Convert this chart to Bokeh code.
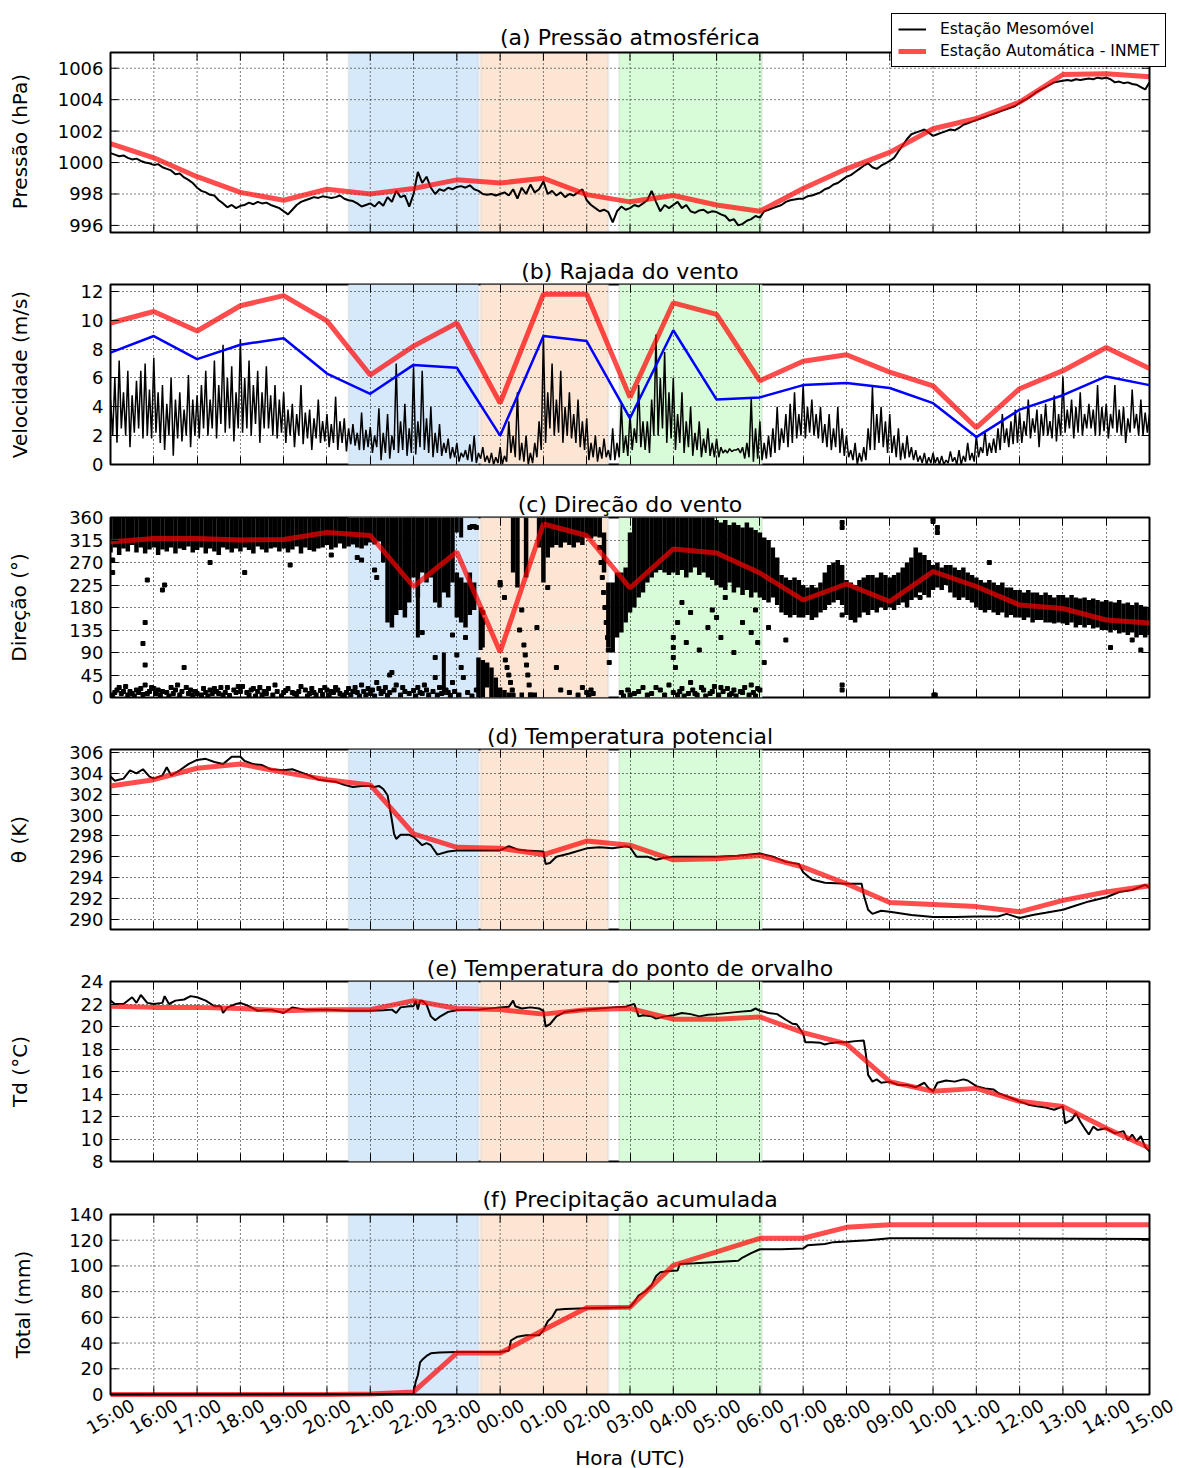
import math
from bokeh.plotting import figure
from bokeh.layouts import column
from bokeh.models import (Range1d, LinearAxis, FixedTicker, BoxAnnotation, Legend, LegendItem, Label)
from bokeh.core.properties import value
from bokeh.embed import file_html
from bokeh.resources import INLINE

FONT = "DejaVu Sans"

# ---------------- data ----------------
hours = list(range(25))
hour_labels = ["15:00", "16:00", "17:00", "18:00", "19:00", "20:00", "21:00", "22:00", "23:00",
               "00:00", "01:00", "02:00", "03:00", "04:00", "05:00", "06:00", "07:00", "08:00",
               "09:00", "10:00", "11:00", "12:00", "13:00", "14:00", "15:00"]

band_start = [5.5, 8.55, 11.75]
band_end = [8.5, 11.5, 15.05]
band_color = ["#d6e9fb", "#fde5d4", "#d8fcd8"]

# sample times (hours after 15:00) of the 6-minute series
t_step = [round(i * 0.1, 2) for i in range(241)]

# (a) pressure
press_yticks = [996, 998, 1000, 1002, 1004, 1006]
press_inmet = [1001.2, 1000.3, 999.1, 998.1, 997.6, 998.3, 998.0, 998.35, 998.9, 998.7, 999.0, 997.96,
               997.5, 997.9, 997.3, 996.9, 998.35, 999.6, 1000.65, 1002.15, 1002.8, 1003.85, 1005.6,
               1005.65, 1005.45]
press_meso = [
    1000.6, 1000.5, 1000.4, 1000.45, 1000.3, 1000.2, 1000.25, 1000.1, 1000.0, 999.95,
    999.85, 999.9, 999.7, 999.6, 999.5, 999.25, 999.3, 999.05, 998.9, 998.7,
    998.4, 998.2, 998.1, 997.95, 997.9, 997.6, 997.4, 997.15, 997.3, 997.1,
    997.25, 997.3, 997.45, 997.35, 997.5, 997.4, 997.45, 997.3, 997.2, 997.1,
    996.9, 996.7, 997.0, 997.3, 997.5, 997.6, 997.7, 997.8, 997.75, 997.85,
    997.8, 997.75, 997.8, 997.9, 997.7, 997.6, 997.55, 997.4, 997.2, 997.3,
    997.4, 997.2, 997.5, 997.25, 997.8, 997.5, 998.2, 997.8, 997.9, 997.2,
    998.0, 999.4, 998.7, 999.1, 998.4, 998.0, 998.3, 998.2, 998.4, 998.3,
    998.45, 998.5, 998.4, 998.55, 998.3, 998.2, 998.0, 997.95, 998.0, 997.9,
    998.0, 998.1, 997.9, 998.3, 997.7, 998.4, 998.0, 998.6, 998.1, 998.3,
    998.8, 998.0, 998.2, 997.9, 998.1, 997.8, 998.0, 997.9, 998.1, 998.3,
    997.6, 997.3, 997.1, 996.9, 997.0, 996.85, 996.2, 996.9, 997.2, 997.0,
    997.1, 997.3, 997.2, 997.4, 997.6, 998.2, 997.5, 996.9, 997.3, 997.1,
    997.3, 997.5, 997.1, 997.3, 996.9, 996.8, 996.95, 997.0, 996.8, 996.9,
    996.85, 996.7, 996.6, 996.3, 996.4, 996.0, 996.1, 996.3, 996.4, 996.6,
    996.5, 996.9, 997.0, 997.1, 997.2, 997.3, 997.5, 997.6, 997.65, 997.7,
    997.7, 997.85, 997.9, 998.0, 998.1, 998.3, 998.4, 998.6, 998.7, 998.9,
    999.1, 999.2, 999.4, 999.6, 999.8, 999.95, 999.7, 999.6, 999.8, 999.95,
    1000.1, 1000.3, 1000.7, 1001.1, 1001.5, 1001.8, 1001.9, 1002.0, 1002.1, 1001.9,
    1001.7, 1001.8, 1001.9, 1002.0, 1002.1, 1002.05, 1002.2, 1002.4, 1002.5, 1002.6,
    1002.7, 1002.8, 1002.9, 1003.0, 1003.1, 1003.2, 1003.3, 1003.4, 1003.5, 1003.6,
    1003.8, 1003.95, 1004.1, 1004.3, 1004.5, 1004.65, 1004.8, 1004.95, 1005.1, 1005.15,
    1005.2, 1005.25, 1005.2, 1005.3, 1005.25, 1005.3, 1005.35, 1005.3, 1005.4, 1005.35,
    1005.4, 1005.3, 1005.1, 1005.15, 1005.05, 1005.1, 1005.0, 1004.95, 1004.8, 1004.65,
    1005.1]

# (b) wind gust
gust_inmet = [9.8, 10.6, 9.25, 11.0, 11.7, 9.95, 6.2, 8.2, 9.8, 4.25, 11.8, 11.8, 4.65, 11.2, 10.4,
              5.8, 7.15, 7.6, 6.4, 5.45, 2.55, 5.25, 6.5, 8.1, 6.65]
wind_inmet = [7.75, 8.9, 7.3, 8.3, 8.75, 6.3, 4.9, 6.9, 6.7, 2.0, 8.9, 8.55, 3.2, 9.3, 4.5, 4.65,
              5.5, 5.65, 5.3, 4.25, 1.9, 3.8, 4.8, 6.1, 5.5]
# mesonet gust, every 3 minutes (20 values per hour)
gust_meso = [
    4.5, 2.0, 6.0, 1.5, 7.2, 2.5, 5.0, 2.0, 6.5, 1.2, 4.8, 2.2, 5.8, 2.5, 6.5, 1.8, 7.0, 2.0, 5.2, 1.8,
    7.4, 2.2, 5.0, 1.5, 5.5, 1.0, 4.2, 2.0, 6.0, 0.6, 4.5, 1.8, 5.0, 1.6, 3.8, 2.0, 6.2, 1.2, 4.5, 2.0,
    4.8, 1.8, 5.5, 2.5, 6.5, 2.0, 4.5, 2.5, 7.2, 1.8, 5.5, 2.8, 8.3, 2.2, 6.0, 2.5, 6.8, 1.6, 5.0, 2.5,
    8.7, 2.2, 6.0, 2.5, 7.2, 2.0, 5.5, 2.8, 6.5, 1.5, 5.0, 2.5, 6.8, 2.5, 4.8, 2.0, 5.5, 1.8, 4.5, 2.2,
    5.0, 1.5, 3.8, 2.0, 4.2, 1.2, 3.5, 2.0, 5.5, 1.4, 3.6, 1.8, 3.8, 1.0, 3.2, 1.8, 4.5, 1.5, 3.0, 1.6,
    3.5, 1.2, 2.8, 1.5, 4.7, 1.0, 3.0, 1.5, 3.2, 0.9, 2.5, 1.4, 2.8, 1.3, 2.2, 1.0, 3.6, 1.0, 2.4, 1.2,
    2.6, 0.8, 2.0, 1.2, 3.9, 0.3, 2.2, 0.8, 3.5, 0.4, 2.0, 1.0, 7.0, 0.8, 3.0, 1.0, 4.2, 0.6, 2.5, 0.8,
    6.8, 0.7, 3.0, 1.2, 6.5, 1.0, 3.2, 0.8, 4.0, 0.5, 2.2, 0.8, 2.8, 0.6, 1.5, 0.8, 1.8, 0.4, 1.2, 0.5,
    1.5, 0.2, 0.8, 0.5, 1.0, 0.3, 1.4, 0.2, 2.0, 0.1, 0.8, 0.4, 1.2, 0.2, 0.6, 0.1, 0.8, 0.0, 0.5, 0.1,
    1.2, 0.0, 0.6, 0.2, 3.0, 0.8, 2.0, 0.5, 5.0, 0.3, 1.5, 0.2, 2.0, 0.0, 0.8, 0.1, 1.5, 0.5, 3.0, 1.0,
    9.0, 1.5, 5.0, 2.5, 7.0, 2.0, 4.5, 2.2, 6.5, 1.5, 4.0, 2.0, 5.0, 1.8, 3.5, 1.5, 4.5, 1.2, 3.0, 1.0,
    3.2, 0.3, 1.5, 0.5, 2.0, 0.2, 1.2, 0.4, 1.8, 0.5, 1.0, 0.3, 2.5, 0.3, 1.5, 0.5, 4.2, 0.8, 2.0, 0.6,
    3.5, 1.0, 2.5, 1.5, 5.5, 1.2, 3.0, 1.0, 3.0, 0.8, 4.5, 2.0, 9.0, 2.0, 6.0, 2.5, 7.8, 1.5, 5.0, 1.8,
    6.0, 1.0, 3.5, 1.5, 5.0, 0.8, 3.0, 1.2, 4.0, 0.6, 2.2, 1.0, 3.0, 0.5, 1.8, 0.8, 2.5, 0.6, 1.5, 0.5,
    1.8, 0.5, 1.2, 0.8, 1.0, 0.8, 1.1, 0.9, 1.0, 1.0, 1.1, 0.8, 1.2, 0.4, 1.5, 0.5, 4.6, 0.2, 2.5, 0.4,
    3.0, 0.3, 1.5, 0.4, 2.0, 0.5, 2.5, 0.8, 4.0, 1.0, 2.5, 1.5, 3.5, 1.2, 4.2, 1.5, 5.0, 1.8, 3.5, 2.0,
    5.6, 1.8, 4.0, 2.2, 4.5, 2.0, 3.5, 1.8, 4.0, 1.5, 2.8, 1.2, 3.5, 1.0, 2.5, 1.2, 4.0, 0.8, 2.5, 0.6,
    2.0, 0.5, 1.0, 0.3, 1.5, 0.0, 0.8, 0.2, 1.2, 0.3, 2.5, 1.0, 5.4, 1.0, 3.5, 1.5, 4.0, 1.2, 3.0, 0.8,
    3.5, 0.8, 2.0, 0.5, 2.5, 0.3, 1.5, 0.4, 2.0, 0.5, 1.2, 0.3, 1.0, 0.2, 0.6, 0.1, 0.8, 0.0, 0.5, 0.1,
    0.8, 0.1, 0.5, 0.0, 0.6, 0.0, 0.3, 0.1, 0.9, 0.2, 0.5, 0.0, 1.0, 0.0, 0.6, 0.2, 1.5, 0.3, 0.8, 0.2,
    2.0, 0.5, 1.2, 0.8, 2.3, 0.6, 1.5, 0.8, 1.8, 0.8, 2.5, 1.0, 3.5, 1.5, 2.5, 1.2, 3.0, 1.4, 3.8, 1.5,
    3.6, 1.5, 3.0, 2.0, 4.5, 1.8, 3.2, 2.2, 3.8, 1.2, 3.5, 2.0, 4.2, 2.0, 3.0, 1.8, 4.8, 1.6, 3.5, 2.0,
    6.1, 2.2, 3.8, 2.5, 4.5, 1.8, 4.0, 2.2, 5.0, 2.0, 3.5, 2.5, 4.2, 2.5, 3.8, 2.0, 5.5, 2.0, 4.0, 2.3,
    4.2, 1.8, 3.5, 2.5, 5.5, 2.2, 3.8, 2.0, 4.0, 1.5, 3.2, 2.2, 5.2, 2.5, 3.5, 2.0, 4.5, 2.0, 3.6, 2.2,
    3.5]
t_gust = [round(i * 0.05, 3) for i in range(len(gust_meso))]

# (c) wind direction
dir_inmet = [311, 318, 318, 315, 316, 330, 324, 222, 291, 91, 347, 324, 219, 297, 289, 249, 195,
             227, 192, 252, 222, 185, 178, 155, 149]
dir_meso_lo = [
    290, 300, 285, 298, 292, 305, 290, 300, 288, 296,
    300, 285, 296, 292, 300, 288, 298, 295, 302, 290,
    295, 300, 288, 298, 292, 285, 300, 296, 290, 298,
    292, 300, 295, 288, 302, 296, 290, 298, 300, 292,
    298, 290, 296, 302, 288, 300, 295, 292, 298, 300,
    305, 296, 300, 308, 298, 302, 306, 300, 298, 304,
    310, 306, 312, 270, 150, 140, 165, 175, 160, 190,
    240, 200, 250, 230, 240, 190, 180, 210, 200, 230,
    160, 150, 140, 165, 175, 0, 0, 20, 0, 0,
    0, 0, 0, 250, 220, 0, 240, 0, 0, 300,
    230, 280, 300, 305, 300, 310, 305, 300, 310, 305,
    320, 318, 322, 320, 250, 100, 90, 120, 130, 150,
    170, 180, 200, 210, 230, 240, 250, 255, 250, 245,
    250, 245, 255, 240, 250, 260, 245, 250, 240, 235,
    225, 220, 215, 230, 210, 220, 205, 215, 200, 210,
    200, 195, 190, 200, 185, 170, 165, 160, 165, 160,
    160, 165, 155, 160, 170, 175, 185, 190, 195, 185,
    165, 155, 150, 160, 170, 165, 175, 170, 180, 175,
    180, 175, 185, 190, 180, 195, 200, 210, 205, 200,
    215, 220, 215, 225, 210, 200, 195, 200, 195, 190,
    180, 175, 170, 175, 170, 165, 170, 160, 165, 160,
    160, 155, 160, 150, 155, 155, 150, 150, 148, 150,
    148, 145, 150, 140, 145, 140, 145, 138, 140, 135,
    135, 130, 135, 128, 130, 125, 130, 120, 125, 120,
    125]
dir_meso_hi = [360] * 80 + [
    250, 240, 230, 250, 230, 80, 75, 70, 60, 40,
    20, 15, 10, 360, 360, 10, 360, 10, 10, 360,
    360, 360, 360, 360, 360, 360, 360, 360, 360, 360,
    360, 360, 360, 360, 330, 230, 230, 250, 250, 260,
    330, 360, 360, 360, 360, 360, 360, 360, 360, 360,
    360, 360, 360, 360, 360, 360, 360, 360, 360, 360,
    355, 350, 355, 345, 350, 345, 340, 350, 340, 335,
    330, 320, 315, 300, 280, 245, 240, 235, 240, 235,
    225, 220, 225, 220, 230, 250, 265, 270, 275, 265,
    235, 230, 225, 235, 240, 245, 245, 240, 250, 245,
    240, 245, 250, 260, 270, 280, 300, 290, 285, 275,
    265, 270, 260, 265, 265, 260, 255, 260, 250, 245,
    240, 235, 230, 235, 230, 225, 230, 220, 220, 215,
    215, 210, 215, 210, 210, 205, 210, 205, 200, 205,
    205, 200, 205, 200, 198, 200, 195, 198, 195, 192,
    195, 192, 190, 195, 188, 190, 185, 190, 185, 182,
    180]
dir_streak_t = [7.1, 7.7, 8.0, 8.1, 8.55, 8.6]
dir_streak_lo = [120, 5, 330, 320, 95, 100]
dir_streak_hi = [250, 90, 360, 360, 180, 160]
dir_points = [
    (0.1, 10), (0.2, 20), (0.4, 5), (0.6, 15), (0.8, 25), (0.85, 8), (0.9, 12), (1.0, 18), (1.15, 5),
    (1.3, 10), (1.5, 15), (1.6, 5), (1.75, 20), (1.8, 8), (1.95, 12), (2.1, 5), (2.3, 15), (2.5, 8),
    (2.7, 20), (2.9, 10), (3.05, 22), (3.2, 5), (3.4, 12), (3.6, 8), (3.8, 25), (4.0, 10), (4.1, 18),
    (4.3, 5), (4.5, 15), (4.7, 10), (4.9, 6), (5.1, 12), (5.3, 8), (5.5, 18), (5.7, 10), (5.8, 25),
    (5.9, 5), (6.05, 15), (6.15, 30), (6.25, 8), (6.35, 20), (6.5, 50), (6.7, 5), (6.8, 12), (7.1, 20),
    (7.2, 8), (7.3, 15), (7.55, 5), (7.6, 20), (7.8, 10), (7.9, 30),
    (0.05, 5), (0.3, 12), (0.5, 8), (0.7, 18), (1.1, 15), (1.4, 20), (1.9, 5), (2.2, 10), (2.4, 18),
    (2.6, 5), (3.0, 12), (3.3, 18), (3.5, 5), (4.2, 10), (4.4, 22), (4.6, 8), (5.0, 15), (5.2, 20),
    (5.4, 5), (5.6, 12), (6.0, 8), (6.2, 18), (6.45, 10), (6.6, 25),
    (0.02, 3), (0.15, 15), (0.25, 8), (0.35, 22), (0.45, 12), (0.55, 3), (0.65, 10), (0.75, 6),
    (0.95, 20), (1.05, 8), (1.2, 12), (1.35, 3), (1.45, 8), (1.55, 25), (1.65, 12), (1.85, 15),
    (2.0, 8), (2.15, 18), (2.25, 3), (2.35, 8), (2.45, 12), (2.55, 20), (2.65, 10), (2.75, 4),
    (2.85, 15), (2.95, 22), (3.15, 10), (3.25, 15), (3.35, 3), (3.45, 20), (3.55, 12), (3.65, 18),
    (3.75, 5), (3.85, 12), (3.95, 3), (4.05, 14), (4.25, 8), (4.35, 12), (4.55, 3), (4.65, 18),
    (4.75, 5), (4.85, 14), (4.95, 20), (5.05, 5), (5.15, 10), (5.25, 15), (5.35, 3), (5.45, 10),
    (5.55, 5), (5.65, 20), (5.75, 3), (5.85, 12), (5.95, 18), (6.1, 3), (6.3, 12), (6.4, 4),
    (6.55, 15), (6.75, 20), (6.9, 8), (7.0, 14), (7.05, 3), (7.15, 10), (7.25, 25), (7.35, 5),
    (7.45, 12), (7.65, 8), (7.75, 15), (7.85, 4), (7.95, 12), (8.05, 5), (8.25, 10), (8.35, 3),
    (8.45, 15),
    (0.05, 250), (0.05, 275), (0.75, 108), (0.8, 150), (0.8, 65), (0.85, 235), (1.2, 215), (1.25, 225),
    (1.7, 60), (2.3, 270), (3.1, 250), (4.15, 265), (5.1, 285), (5.7, 280), (5.8, 275), (6.1, 255),
    (6.15, 240), (6.45, 45), (7.2, 130), (7.5, 80), (7.5, 40), (7.9, 125), (8.0, 85), (8.1, 60),
    (8.15, 40), (8.2, 120), (8.3, 340), (8.35, 342), (8.4, 342), (8.45, 340),
    (9.12, 75), (9.16, 60), (9.2, 45), (9.24, 30), (9.28, 15), (9.3, 5), (9.55, 105), (9.58, 85),
    (9.61, 65), (9.64, 45), (9.67, 25), (9.7, 5), (8.6, 150), (8.6, 170), (9.0, 225), (9.0, 230),
    (9.1, 200), (9.45, 135), (9.5, 175), (9.85, 140), (10.1, 220), (10.3, 60), (10.4, 15), (10.6, 10),
    (10.8, 5), (10.9, 20), (11.0, 10), (11.05, 5), (11.1, 15), (11.15, 8),
    (11.3, 300), (11.33, 270), (11.36, 240), (11.39, 210), (11.42, 180), (11.45, 150), (11.48, 120),
    (11.5, 95), (11.52, 70),
    (11.8, 10), (12.0, 5), (12.3, 20), (12.5, 8), (12.7, 15), (12.9, 25), (13.0, 10), (13.1, 5),
    (13.2, 18), (13.4, 30), (13.5, 8), (13.7, 15), (13.9, 12), (14.1, 20), (14.3, 5), (14.4, 15),
    (14.6, 10), (14.8, 25), (15.0, 15),
    (11.85, 3), (11.95, 15), (12.1, 8), (12.2, 12), (12.4, 5), (12.6, 20), (12.8, 5), (13.15, 12),
    (13.25, 3), (13.35, 8), (13.45, 15), (13.55, 5), (13.65, 20), (13.75, 3), (13.85, 8), (13.95, 22),
    (14.05, 5), (14.15, 12), (14.25, 18), (14.35, 8), (14.45, 3), (14.55, 12), (14.65, 20),
    (14.75, 5), (14.85, 10), (14.9, 3), (14.95, 18),
    (13.0, 120), (13.0, 100), (13.0, 80), (13.05, 60), (13.1, 150), (13.2, 190), (13.3, 110),
    (13.4, 170), (13.6, 95), (13.8, 140), (13.9, 175), (14.0, 160), (14.1, 120), (14.2, 200),
    (14.4, 90), (14.6, 150), (14.8, 130), (14.9, 175), (14.95, 110), (15.1, 70), (15.2, 140),
    (15.6, 115), (16.9, 165), (16.9, 25), (16.9, 15), (18.7, 200), (19.0, 358), (19.0, 352),
    (19.02, 5), (19.05, 5), (19.1, 330), (19.1, 340), (16.9, 350), (16.9, 340), (20.3, 270),
    (20.5, 210), (23.0, 150), (23.1, 100), (23.6, 115), (23.8, 95)]

# (d) potential temperature
theta_inmet = [302.8, 303.4, 304.5, 304.9, 304.1, 303.4, 302.9, 298.2, 296.9, 296.8, 296.2, 297.5,
               297.1, 295.7, 295.8, 296.1, 295.0, 293.4, 291.6, 291.4, 291.2, 290.7, 291.8, 292.6, 293.2]
theta_meso_t = [0, 0.1, 0.3, 0.45, 0.6, 0.75, 0.9, 1.0, 1.2, 1.3, 1.4, 1.6, 1.8, 2.0, 2.2, 2.4, 2.6,
                2.8, 3.0, 3.1, 3.3, 3.5, 3.7, 4.0, 4.2, 4.4, 4.6, 4.8, 5.0, 5.2, 5.4, 5.6, 5.8, 6.0,
                6.1, 6.2, 6.3, 6.4, 6.5, 6.55, 6.6, 6.7, 6.9, 7.0, 7.1, 7.2, 7.3, 7.4, 7.5, 7.55, 7.8,
                8.0, 8.5, 9.0, 9.2, 9.4, 9.6, 10.0, 10.05, 10.15, 10.3, 10.6, 11.0, 11.3, 11.6, 11.9,
                12.0, 12.15, 12.4, 12.6, 12.8, 13.0, 13.5, 14.0, 14.5, 15.0, 15.3, 15.6, 15.9, 16.0,
                16.2, 16.5, 17.0, 17.35, 17.4, 17.5, 17.6, 17.8, 18.0, 18.5, 19.0, 19.5, 20.0, 20.5,
                20.7, 21.0, 21.3, 21.6, 22.0, 22.3, 22.6, 23.0, 23.3, 23.6, 23.9, 24.0]
theta_meso_v = [303.7, 303.3, 303.5, 304.3, 304.0, 304.4, 303.7, 303.5, 303.8, 304.6, 303.8, 304.3,
                304.9, 305.3, 305.4, 305.1, 304.9, 305.6, 305.6, 305.2, 304.9, 304.8, 304.4, 304.3,
                304.4, 304.1, 303.8, 303.4, 303.3, 303.2, 302.9, 302.7, 302.8, 302.8, 302.7, 302.8,
                302.5, 301.9, 299.5, 298.2, 297.7, 298.1, 298.1, 297.9, 297.5, 297.1, 297.3, 297.1,
                296.5, 296.2, 296.5, 296.6, 296.6, 296.6, 297.0, 296.7, 296.6, 296.5, 295.3, 295.4,
                296.0, 296.3, 296.8, 296.9, 296.8, 297.0, 296.9, 296.0, 296.0, 295.7, 295.9, 296.0,
                296.0, 296.0, 296.1, 296.3, 296.0, 295.5, 295.3, 294.5, 293.8, 293.5, 293.4, 293.4,
                292.3, 290.9, 290.5, 290.8, 290.7, 290.4, 290.2, 290.2, 290.25, 290.25, 290.5, 290.1,
                290.4, 290.6, 290.9, 291.3, 291.7, 292.1, 292.6, 292.8, 293.3, 293.0]

# (e) dew point
td_inmet = [21.8, 21.7, 21.7, 21.6, 21.4, 21.5, 21.5, 22.3, 21.6, 21.5, 21.1, 21.5, 21.6, 20.65,
            20.65, 20.85, 19.45, 18.45, 15.1, 14.25, 14.5, 13.35, 12.9, 10.95, 9.2]
td_meso_t = [0, 0.1, 0.3, 0.5, 0.6, 0.7, 0.85, 1.0, 1.2, 1.25, 1.35, 1.5, 1.7, 1.85, 2.0, 2.2, 2.4,
             2.55, 2.6, 2.7, 2.9, 3.0, 3.2, 3.4, 3.7, 4.0, 4.2, 4.5, 5.0, 5.5, 6.0, 6.3, 6.5, 6.6,
             6.7, 6.9, 7.0, 7.05, 7.1, 7.15, 7.2, 7.3, 7.4, 7.5, 7.6, 7.8, 8.0, 8.5, 9.0, 9.2, 9.3,
             9.35, 9.5, 9.7, 9.9, 10.0, 10.05, 10.15, 10.3, 10.5, 10.8, 11.0, 11.3, 11.6, 11.9, 12.0,
             12.1, 12.2, 12.3, 12.5, 12.6, 12.8, 13.0, 13.2, 13.4, 13.6, 13.8, 14.0, 14.5, 14.8,
             14.9, 15.0, 15.2, 15.4, 15.6, 15.75, 15.85, 16.0, 16.05, 16.2, 16.4, 16.5, 16.6, 16.8,
             17.0, 17.2, 17.4, 17.45, 17.5, 17.6, 17.7, 17.8, 18.0, 18.2, 18.4, 18.6, 18.8, 18.9,
             19.0, 19.1, 19.3, 19.5, 19.7, 19.8, 20.0, 20.2, 20.4, 20.5, 20.7, 21.0, 21.2, 21.4,
             21.6, 21.8, 22.0, 22.05, 22.2, 22.3, 22.4, 22.5, 22.6, 22.7, 22.8, 23.0, 23.2, 23.4,
             23.5, 23.6, 23.7, 23.8, 23.9, 24.0]
td_meso_v = [22.3, 22.0, 22.0, 22.6, 22.1, 22.8, 22.1, 22.0, 22.1, 22.7, 22.0, 22.3, 22.4, 22.7,
             22.6, 22.3, 21.8, 21.8, 21.2, 21.7, 22.0, 22.1, 21.8, 21.4, 21.5, 21.2, 21.7, 21.5,
             21.5, 21.4, 21.4, 21.45, 21.5, 21.2, 21.7, 21.8, 21.8, 22.3, 21.5, 22.3, 22.3, 21.95,
             20.9, 20.55, 20.85, 21.3, 21.45, 21.5, 21.7, 21.75, 22.3, 21.8, 21.6, 21.7, 21.6, 21.4,
             20.0, 20.2, 20.9, 21.3, 21.45, 21.5, 21.6, 21.7, 21.75, 21.9, 22.0, 20.9, 21.0, 20.9,
             20.7, 20.9, 21.0, 21.2, 21.1, 20.9, 21.05, 21.1, 21.3, 21.4, 21.6, 21.4, 21.2, 21.1,
             20.6, 20.25, 20.2, 19.35, 18.6, 18.6, 18.55, 18.4, 18.5, 18.6, 18.6, 18.7, 18.75, 17.5,
             15.7, 15.1, 15.3, 15.0, 15.1, 14.8, 14.8, 14.6, 15.0, 14.5, 14.25, 15.0, 15.2, 15.1,
             15.3, 15.2, 14.7, 14.5, 14.4, 14.1, 13.8, 13.35, 13.05, 12.9, 12.8, 12.6, 12.9, 11.4,
             11.7, 12.3, 11.55, 10.95, 10.4, 11.1, 10.8, 10.95, 10.5, 10.7, 9.9, 10.4, 9.8, 10.25,
             9.3, 8.9]

# (f) accumulated precipitation
precip_yticks = [0, 20, 40, 60, 80, 100, 120, 140]
precip_inmet = [0, 0, 0, 0, 0, 0, 0.3, 2.0, 32.2, 32.2, 50.2, 67.4, 67.9, 100.4, 110.9, 121.5,
                121.5, 130.0, 132.1, 132.1, 132.1, 132.1, 132.1, 132.1, 132.1]
precip_meso_t = [0, 7.0, 7.05, 7.1, 7.15, 7.2, 7.3, 7.4, 7.6, 8.0, 9.0, 9.2, 9.25, 9.4, 9.6, 9.9,
                 10.0, 10.1, 10.2, 10.3, 10.5, 11.0, 11.5, 12.0, 12.1, 12.2, 12.35, 12.5, 12.6, 12.7,
                 12.9, 13.1, 13.15, 13.5, 14.0, 14.5, 14.6, 14.8, 15.0, 15.5, 16.0, 16.1, 16.5, 16.7,
                 17.0, 17.5, 18.0, 18.5, 24.0]
precip_meso_v = [0, 0.5, 10, 15, 25, 27, 30, 32, 32.7, 33, 33, 34, 42, 45, 46, 46, 50, 57, 60, 66,
                 66.5, 67, 67.5, 67.9, 72, 77, 80, 85, 92, 95, 96, 96.5, 101.5, 102, 103, 104, 106.5,
                 110, 113, 113, 113.5, 116, 117, 118.5, 119, 120, 121.5, 121.5, 121]

# ---------------- styling / layout ----------------
FRAME_W = 1039
FRAME_H = 180
SX = FRAME_W / 24.0          # px per hour
RED = "red"
RED_ALPHA = 0.7
TICK = 8
GRID_DASH = "1 3"
NBSP = "\u00a0"
TITLE_SIZE = "22px"


def no_align(p):
    try:
        p.frame_align = False
    except Exception:
        pass


def hidden_axis(ticker):
    ax = LinearAxis(ticker=ticker)
    ax.major_label_text_font_size = "0px"
    ax.major_label_text_color = None
    ax.major_label_standoff = 0
    ax.major_tick_in = TICK
    ax.major_tick_out = 0
    ax.major_tick_line_width = 1
    ax.major_tick_line_color = "black"
    ax.minor_tick_line_color = None
    ax.axis_line_color = None
    return ax


def style_title(p):
    p.title.text_font = FONT
    p.title.text_font_size = TITLE_SIZE
    p.title.text_font_style = "normal"
    p.title.text_color = "black"
    p.title.align = "center"
    p.title.standoff = 2


def style_yaxis(ya, ylabel, standoff, lab_standoff=7):
    ya.major_tick_in = TICK
    ya.major_tick_out = 0
    ya.major_tick_line_color = "black"
    ya.minor_tick_line_color = None
    ya.axis_line_color = None
    ya.major_label_text_font = FONT
    ya.major_label_text_font_size = "18px"
    ya.major_label_text_color = "black"
    ya.major_label_standoff = lab_standoff
    ya.axis_label = ylabel
    ya.axis_label_text_font = FONT
    ya.axis_label_text_font_size = "20px"
    ya.axis_label_text_font_style = "normal"
    ya.axis_label_text_color = "black"
    ya.axis_label_standoff = standoff


def panel(title, ylabel, yr, yticks, label_standoff, top, bottom):
    p = figure(frame_width=FRAME_W, frame_height=FRAME_H, x_range=Range1d(0, 24),
               y_range=Range1d(*yr), output_backend="svg", toolbar_location=None,
               min_border_left=110, min_border_right=30, min_border_top=top,
               min_border_bottom=bottom, background_fill_color="white",
               border_fill_color="white")
    no_align(p)
    p.title.text = title
    style_title(p)
    p.outline_line_color = "black"
    p.outline_line_width = 2
    p.outline_line_alpha = 1

    xt = FixedTicker(ticks=hours)
    yt = FixedTicker(ticks=yticks)

    xa = p.xaxis[0]
    xa.ticker = xt
    xa.major_tick_in = TICK
    xa.major_tick_out = 0
    xa.major_tick_line_color = "black"
    xa.minor_tick_line_color = None
    xa.axis_line_color = None
    xa.major_label_text_font_size = "0px"
    xa.major_label_text_color = None
    xa.major_label_standoff = 0

    ya = p.yaxis[0]
    ya.ticker = yt
    style_yaxis(ya, ylabel, label_standoff)

    p.add_layout(hidden_axis(FixedTicker(ticks=yticks)), "right")
    p.add_layout(hidden_axis(FixedTicker(ticks=hours)), "above")

    for g, tk in ((p.xgrid[0], xt), (p.ygrid[0], yt)):
        g.ticker = tk
        g.grid_line_color = "black"
        g.grid_line_dash = GRID_DASH
        g.grid_line_width = 1
        g.grid_line_alpha = 1

    for s, e, c in zip(band_start, band_end, band_color):
        p.add_layout(BoxAnnotation(left=s, right=e, fill_color=c, fill_alpha=1,
                                   line_color="#c8c8c8", line_width=2, level="image"))
    return p


def data_frame_decor(p, yr, yticks):
    """bands and dotted grid drawn inside a larger frame"""
    n_h, n_y = len(hours), len(yticks)
    for s, e, c in zip(band_start, band_end, band_color):
        p.add_layout(BoxAnnotation(left=s, right=e, bottom=yr[0], top=yr[1], fill_color=c,
                                   fill_alpha=1, line_color="#c8c8c8", line_width=2,
                                   level="image"))
    p.segment(x0=hours, y0=[yr[0]] * n_h, x1=hours, y1=[yr[1]] * n_h,
              line_color="black", line_dash=GRID_DASH, line_width=1)
    p.segment(x0=[0] * n_y, y0=yticks, x1=[24] * n_y, y1=yticks,
              line_color="black", line_dash=GRID_DASH, line_width=1)


def data_frame_ticks(p, yr, yticks, sy):
    """inward ticks and black border of a data box drawn inside a larger frame"""
    n_h, n_y = len(hours), len(yticks)
    p.segment(x0=hours, y0=[yr[1]] * n_h, x1=hours, y1=[yr[1] - TICK / sy] * n_h,
              line_color="black", line_width=1)
    p.segment(x0=hours, y0=[yr[0]] * n_h, x1=hours, y1=[yr[0] + TICK / sy] * n_h,
              line_color="black", line_width=1)
    p.segment(x0=[0] * n_y, y0=yticks, x1=[TICK / SX] * n_y, y1=yticks,
              line_color="black", line_width=1)
    p.segment(x0=[24 - TICK / SX] * n_y, y0=yticks, x1=[24] * n_y, y1=yticks,
              line_color="black", line_width=1)
    p.add_layout(BoxAnnotation(left=0, right=24, bottom=yr[0], top=yr[1], fill_alpha=0,
                               line_color="black", line_width=2, line_alpha=1))


# ---- (a): taller/wider frame so that the legend (across the top edge) is not clipped
A_YR = (995.55, 1007.0)
SY_A = FRAME_H / (A_YR[1] - A_YR[0])
pa = figure(frame_width=FRAME_W + 2 + 22, frame_height=FRAME_H + 2 + 42,
            x_range=Range1d(-2 / SX, 24 + 22 / SX),
            y_range=Range1d(A_YR[0] - 2 / SY_A, A_YR[1] + 42 / SY_A),
            min_border_left=108, min_border_right=0, min_border_top=10, min_border_bottom=4,
            output_backend="svg", toolbar_location=None, x_axis_location=None,
            background_fill_color="white", border_fill_color="white")
no_align(pa)
pa.outline_line_color = None
pa.xgrid.visible = False
pa.ygrid.visible = False
ya = pa.yaxis[0]
ya.ticker = FixedTicker(ticks=press_yticks)
style_yaxis(ya, "Pressão (hPa)" + NBSP * 6, 23, lab_standoff=5)
ya.major_tick_line_color = None
data_frame_decor(pa, A_YR, press_yticks)
ra_k = pa.line(t_step, press_meso, line_color="black", line_width=2)
ra_r = pa.line(hours, press_inmet, line_color=RED, line_alpha=RED_ALPHA, line_width=5)
data_frame_ticks(pa, A_YR, press_yticks, SY_A)
pa.add_layout(Label(x=12, y=A_YR[1], y_offset=3, text="(a) Pressão atmosférica",
                    text_align="center", text_baseline="bottom", text_font=FONT,
                    text_font_size=TITLE_SIZE, text_color="black"))
legend = Legend(items=[LegendItem(label="Estação Mesomóvel", renderers=[ra_k]),
                       LegendItem(label="Estação Automática - INMET", renderers=[ra_r])],
                location=(783, 167), orientation="vertical")
legend.label_text_font = FONT
legend.label_text_font_size = "15.5px"
legend.label_text_color = "black"
legend.glyph_width = 28
legend.glyph_height = 18
legend.label_standoff = 14
legend.padding = 6
legend.spacing = 4
legend.margin = 0
legend.border_line_color = "black"
legend.border_line_width = 1.5
legend.border_line_alpha = 1
legend.background_fill_color = "white"
legend.background_fill_alpha = 1
pa.add_layout(legend, "center")

# (b)
pb = panel("(b) Rajada do vento", "Velocidade (m/s)", (0, 12.47),
           [0, 2, 4, 6, 8, 10, 12], 46, 46, 12)
pb.line(t_gust, gust_meso, line_color="black", line_width=1.5)
pb.line(hours, gust_inmet, line_color=RED, line_alpha=RED_ALPHA, line_width=5)
pb.line(hours, wind_inmet, line_color="blue", line_width=2.5)

# (c)
pc = panel("(c) Direção do vento", "Direção (°)", (0, 360),
           [0, 45, 90, 135, 180, 225, 270, 315, 360], 35, 41, 12)
pc.segment(x0=t_step, y0=dir_meso_lo, x1=t_step, y1=dir_meso_hi, line_color="black",
           line_width=4.5)
pc.segment(x0=dir_streak_t, y0=dir_streak_lo, x1=dir_streak_t, y1=dir_streak_hi,
           line_color="black", line_width=4)
pc.scatter([a for a, b in dir_points], [b for a, b in dir_points], marker="square", size=4,
           color="black")
pc.line(hours, dir_inmet, line_color=RED, line_alpha=RED_ALPHA, line_width=5)

# (d)
pd_ = panel("(d) Temperatura potencial", "θ (K)", (289.0, 306.3),
            [290, 292, 294, 296, 298, 300, 302, 304, 306], 35, 40, 12)
pd_.line(theta_meso_t, theta_meso_v, line_color="black", line_width=2)
pd_.line(hours, theta_inmet, line_color=RED, line_alpha=RED_ALPHA, line_width=5)

# (e)
pe = panel("(e) Temperatura do ponto de orvalho", "Td (°C)", (8, 24),
           [8, 10, 12, 14, 16, 18, 20, 22, 24], 46, 40, 12)
pe.line(td_meso_t, td_meso_v, line_color="black", line_width=2)
pe.line(hours, td_inmet, line_color=RED, line_alpha=RED_ALPHA, line_width=5)

# ---- (f): one frame covering the whole bottom strip, so the rotated hour labels
#      (centred on their ticks, as in the original) can be drawn without clipping
F_YR = (0, 140)
SY_F = FRAME_H / (F_YR[1] - F_YR[0])
F_TOP = 41                    # px above the data box (title)
F_BOT = 74                    # px below the data box (hour labels + axis title)
PAGE_W = 1179
LEFT = 110                    # page x of the data box's left edge


def f_y(px_below_bottom):
    """data y for a position given in px below the data box's bottom edge"""
    return F_YR[0] - px_below_bottom / SY_F


pf = figure(frame_width=PAGE_W, frame_height=F_TOP + FRAME_H + F_BOT,
            x_range=Range1d(-LEFT / SX, (PAGE_W - LEFT) / SX),
            y_range=Range1d(f_y(F_BOT), F_YR[1] + F_TOP / SY_F),
            min_border_left=0, min_border_right=0, min_border_top=0, min_border_bottom=0,
            output_backend="svg", toolbar_location=None, x_axis_location=None,
            y_axis_location=None, background_fill_color="white", border_fill_color="white")
no_align(pf)
pf.outline_line_color = None
pf.grid.visible = False
data_frame_decor(pf, F_YR, precip_yticks)
pf.line(precip_meso_t, precip_meso_v, line_color="black", line_width=2)
pf.line(hours, precip_inmet, line_color=RED, line_alpha=RED_ALPHA, line_width=5)
data_frame_ticks(pf, F_YR, precip_yticks, SY_F)
# title
pf.text(x=[12], y=[F_YR[1] + 3 / SY_F], text=["(f) Precipitação acumulada"],
        text_align="center", text_baseline="bottom", text_font=value(FONT),
        text_font_size=TITLE_SIZE, text_color="black")
# y tick labels and y axis title
pf.text(x=[-7 / SX] * len(precip_yticks), y=precip_yticks,
        text=[str(v) for v in precip_yticks], text_align="right", text_baseline="middle",
        text_font=value(FONT), text_font_size="18px", text_color="black")
pf.text(x=[(22 - LEFT) / SX], y=[(F_YR[0] + F_YR[1]) / 2], text=["Total (mm)"],
        angle=math.pi / 2, text_align="center", text_baseline="middle",
        text_font=value(FONT), text_font_size="20px", text_color="black")
# x tick labels (rotated 30 degrees, centred on the hour) and x axis title
pf.text(x=hours, y=[f_y(22)] * len(hours), text=hour_labels, angle=math.pi / 6,
        text_align="center", text_baseline="middle", text_font=value(FONT),
        text_font_size="18px", text_color="black")
pf.text(x=[12], y=[f_y(63)], text=["Hora (UTC)"], text_align="center",
        text_baseline="middle", text_font=value(FONT), text_font_size="20px",
        text_color="black")

layout = column(pa, pb, pc, pd_, pe, pf, spacing=0)
open("out.html", "w").write(file_html(layout, INLINE))
